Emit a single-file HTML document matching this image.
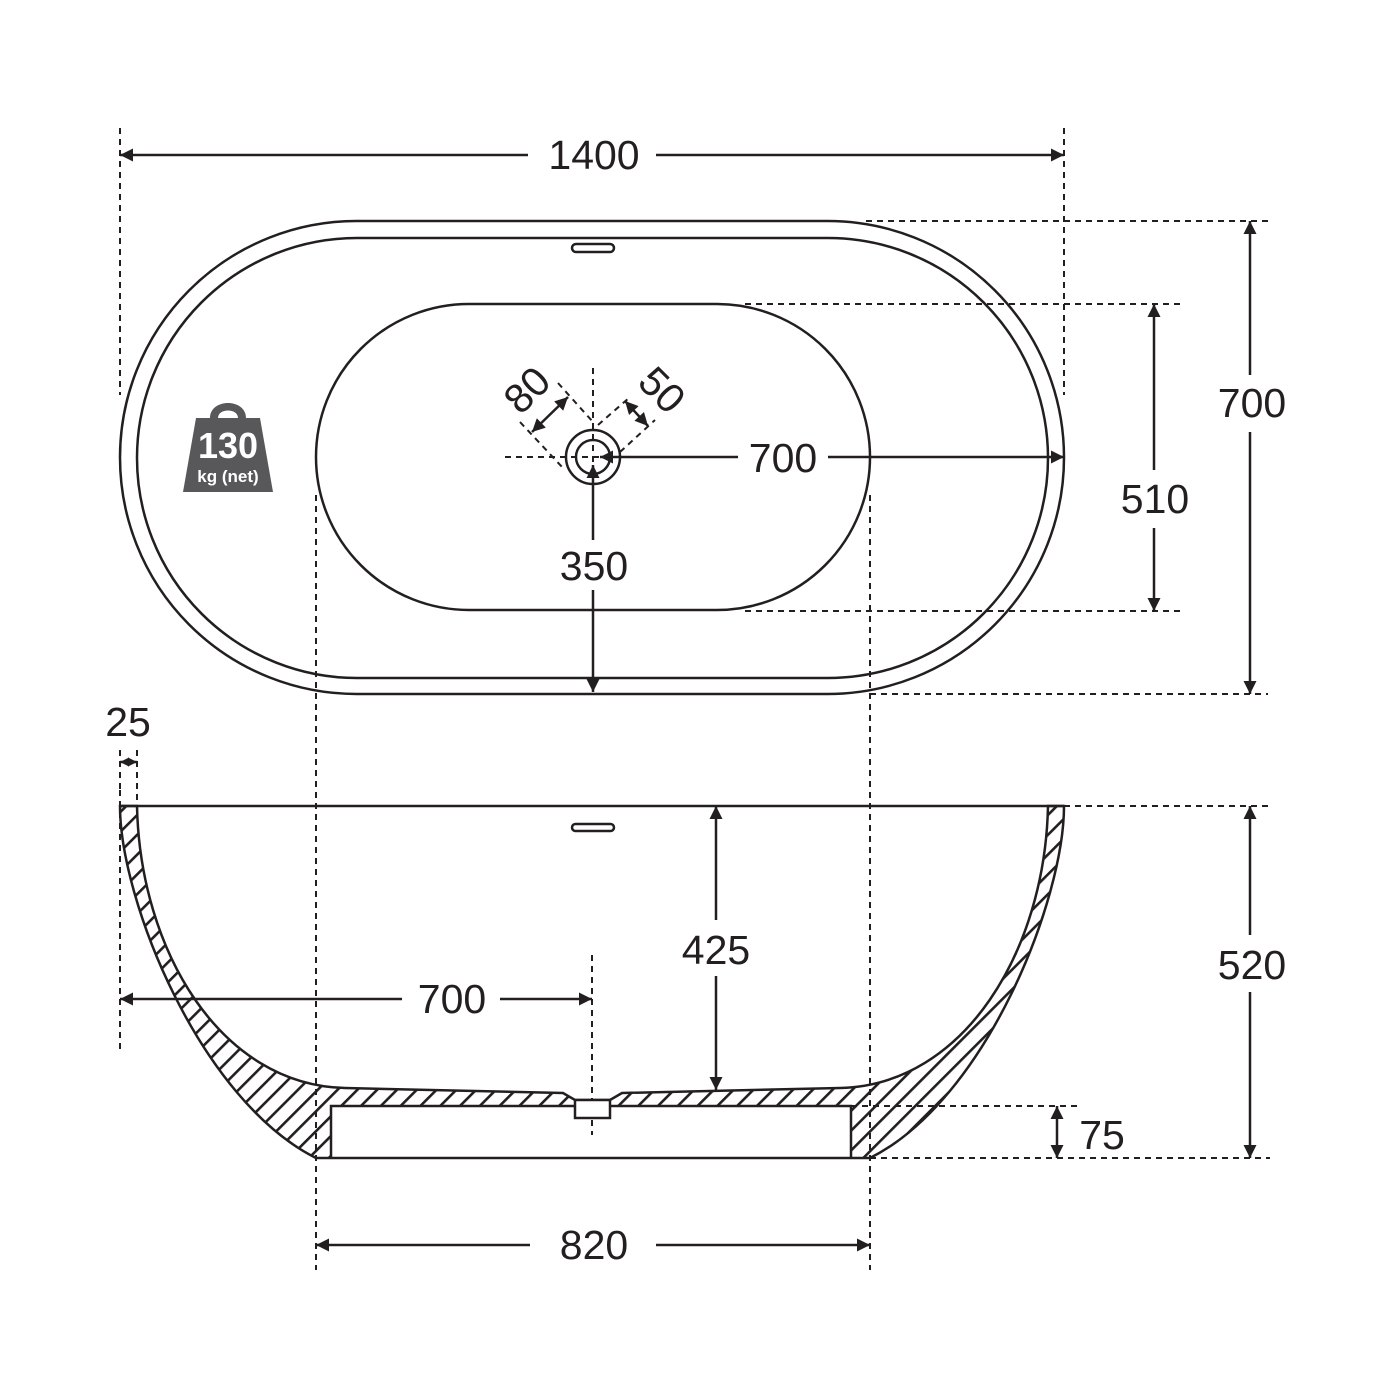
<!DOCTYPE html>
<html><head><style>html,body{margin:0;padding:0;background:#fff}svg{display:block}text{font-family:"Liberation Sans",sans-serif;fill:#231f20}</style></head><body>
<svg width="1400" height="1400" viewBox="0 0 1400 1400" xmlns="http://www.w3.org/2000/svg">
<defs>
<marker id="a" viewBox="0 0 10 10" refX="10" refY="5" markerWidth="9" markerHeight="9" orient="auto-start-reverse" markerUnits="userSpaceOnUse"><path d="M0,0 L10,5 L0,10 z" fill="#231f20"/></marker>
<marker id="b" viewBox="0 0 10 10" refX="10" refY="5" markerWidth="18" markerHeight="13" orient="auto-start-reverse" markerUnits="userSpaceOnUse"><path d="M0,0 L10,5 L0,10 z" fill="#231f20"/></marker>
<pattern id="h" patternUnits="userSpaceOnUse" width="14" height="14" patternTransform="rotate(45)"><rect x="0" y="0" width="2.6" height="14" fill="#231f20"/></pattern>
</defs>
<g fill="none" stroke="#231f20" stroke-width="2.5">
<rect x="120" y="221" width="944" height="473" rx="236.5"/>
<rect x="137" y="238" width="911" height="440" rx="220"/>
<rect x="316" y="304" width="554" height="306" rx="153"/>
<rect x="572" y="244" width="42" height="8" rx="4"/>
<circle cx="593" cy="457" r="27"/>
<circle cx="593" cy="457" r="17"/>
</g>
<g fill="none" stroke="#231f20" stroke-width="2" stroke-dasharray="6,5">
<line x1="120" y1="128" x2="120" y2="395"/>
<line x1="1064" y1="128" x2="1064" y2="395"/>
<line x1="866" y1="221" x2="1268" y2="221"/>
<line x1="870" y1="694" x2="1268" y2="694"/>
<line x1="745" y1="304" x2="1180" y2="304"/>
<line x1="745" y1="611" x2="1180" y2="611"/>
<line x1="316" y1="495" x2="316" y2="1270"/>
<line x1="870" y1="495" x2="870" y2="1270"/>
<line x1="505" y1="457" x2="685" y2="457"/>
<line x1="593" y1="368" x2="593" y2="470"/>
<line x1="520" y1="422" x2="563" y2="468"/>
<line x1="558" y1="383" x2="593" y2="422"/>
<line x1="598" y1="425" x2="630" y2="397"/>
<line x1="620" y1="452" x2="655" y2="420"/>
<line x1="120" y1="790" x2="120" y2="1050"/>
<line x1="137" y1="750" x2="137" y2="806"/>
<line x1="120" y1="750" x2="120" y2="790"/>
<line x1="592" y1="955" x2="592" y2="1135"/>
<line x1="1064" y1="806" x2="1268" y2="806"/>
<line x1="870" y1="1158" x2="1270" y2="1158"/>
<line x1="851" y1="1106" x2="1080" y2="1106"/>
</g>
<g stroke="#231f20" stroke-width="2.5" fill="none">
<line x1="120" y1="155" x2="528" y2="155" marker-start="url(#b)"/>
<line x1="656" y1="155" x2="1064" y2="155" marker-end="url(#b)"/>
<line x1="1250" y1="221" x2="1250" y2="375" marker-start="url(#b)"/>
<line x1="1250" y1="432" x2="1250" y2="694" marker-end="url(#b)"/>
<line x1="1154" y1="304" x2="1154" y2="470" marker-start="url(#b)"/>
<line x1="1154" y1="528" x2="1154" y2="611" marker-end="url(#b)"/>
<line x1="600" y1="457" x2="738" y2="457" marker-start="url(#b)"/>
<line x1="828" y1="457" x2="1064" y2="457" marker-end="url(#b)"/>
<line x1="593" y1="465" x2="593" y2="540" marker-start="url(#b)"/>
<line x1="593" y1="590" x2="593" y2="692" marker-end="url(#b)"/>
<line x1="532" y1="432" x2="568" y2="397" marker-start="url(#b)" marker-end="url(#b)"/>
<line x1="625" y1="401" x2="648" y2="426" marker-start="url(#b)" marker-end="url(#b)"/>
<line x1="120" y1="762" x2="137" y2="762" marker-start="url(#a)" marker-end="url(#a)"/>
<line x1="120" y1="999" x2="402" y2="999" marker-start="url(#b)"/>
<line x1="500" y1="999" x2="592" y2="999" marker-end="url(#b)"/>
<line x1="716" y1="806" x2="716" y2="920" marker-start="url(#b)"/>
<line x1="716" y1="976" x2="716" y2="1090" marker-end="url(#b)"/>
<line x1="1250" y1="806" x2="1250" y2="935" marker-start="url(#b)"/>
<line x1="1250" y1="992" x2="1250" y2="1158" marker-end="url(#b)"/>
<line x1="1057" y1="1106" x2="1057" y2="1158" marker-start="url(#b)" marker-end="url(#b)"/>
<line x1="316" y1="1245" x2="530" y2="1245" marker-start="url(#b)"/>
<line x1="656" y1="1245" x2="870" y2="1245" marker-end="url(#b)"/>
</g>
<path fill="url(#h)" fill-rule="evenodd" stroke="#231f20" stroke-width="2.5" d="M120,806 C120,900 200,1100 316,1158 L870,1158 C986,1100 1064,900 1064,806 L1048,806 C1045,950 965,1085 840,1088 L622,1093 L610,1100 L575,1100 L563,1093 L345,1088 C220,1085 140,950 137,806 Z M331,1106 L851,1106 L851,1158 L331,1158 Z"/>
<rect x="575" y="1100" width="35" height="18" fill="#fff" stroke="#231f20" stroke-width="2.5"/>
<line x1="120" y1="806" x2="1064" y2="806" stroke="#231f20" stroke-width="2.5"/>
<rect x="572" y="824" width="42" height="7" rx="3.5" fill="none" stroke="#231f20" stroke-width="2.5"/>
<g fill="#58585a">
<path d="M210,418 C210,398 246,398 246,418 L238,418 C238,408 218,408 218,418 Z"/>
<path d="M196,418 L260,418 L273,492 L183,492 Z"/>
</g>
<text x="228" y="458" font-size="36" font-weight="bold" text-anchor="middle" style="fill:#fff">130</text>
<text x="228" y="482" font-size="17" font-weight="bold" text-anchor="middle" style="fill:#fff">kg (net)</text>
<g font-size="41" text-anchor="middle">
<text x="594" y="169">1400</text>
<text x="1252" y="417">700</text>
<text x="1155" y="513">510</text>
<text x="783" y="472">700</text>
<text x="594" y="580">350</text>
<text transform="translate(527,390) rotate(-45)" y="14">80</text>
<text transform="translate(662,390) rotate(45)" y="14">50</text>
<text x="128" y="736">25</text>
<text x="452" y="1013">700</text>
<text x="716" y="964">425</text>
<text x="1252" y="979">520</text>
<text x="1102" y="1149">75</text>
<text x="594" y="1259">820</text>
</g>
</svg>
</body></html>
